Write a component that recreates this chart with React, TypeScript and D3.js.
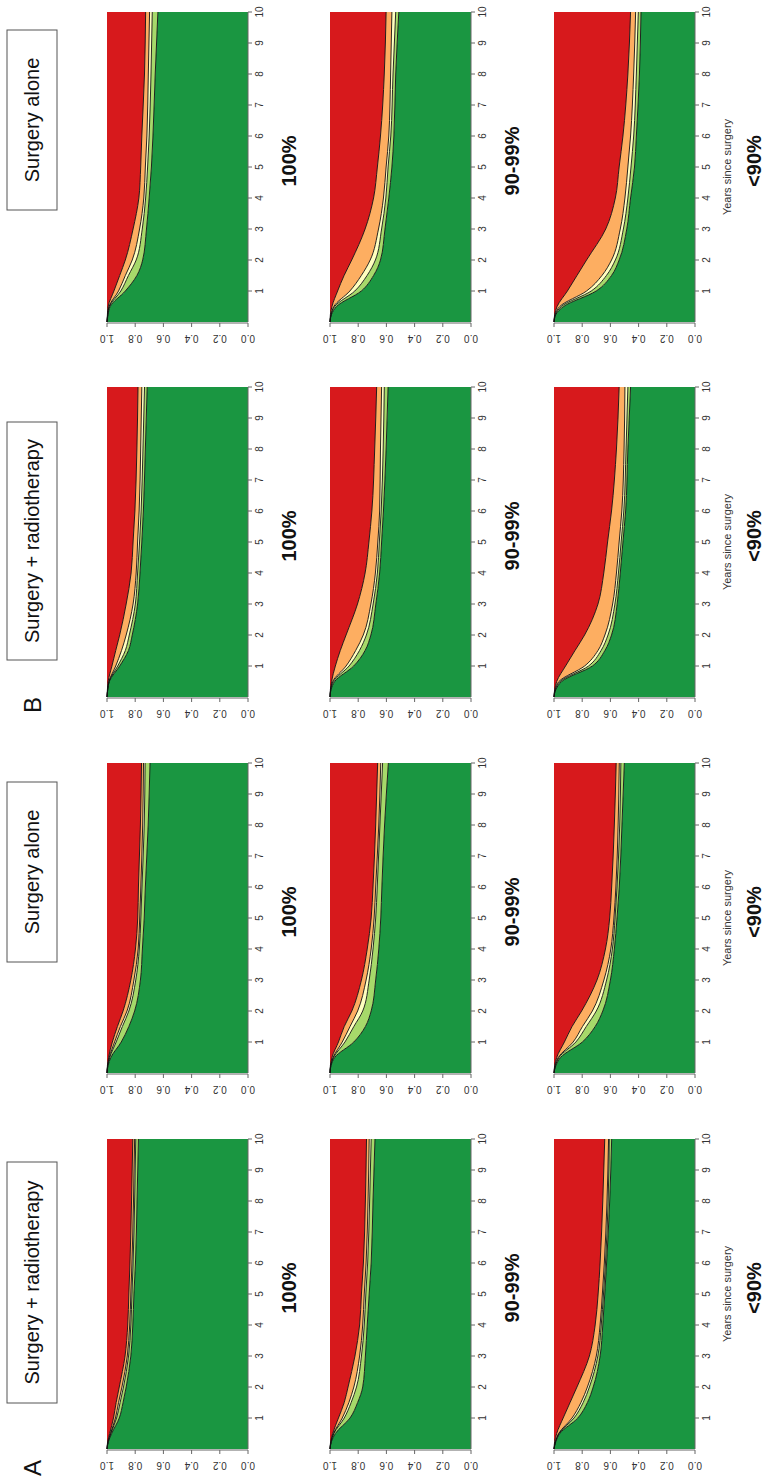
import * as d3 from "d3";

// years since surgery at which the stacked curves were read
const years = [0, 0.25, 0.5, 1, 1.5, 2, 3, 4, 5, 6, 8, 10];

// upper edge of each band: [green, light green, yellow, orange]; red fills up to 1
const A_SR_100 = [
  [1, .989, .967, .913, .886, .864, .831, .817, .809, .798, .787, .777],
  [1, .992, .973, .932, .907, .883, .847, .831, .823, .815, .804, .796],
  [1, .992, .975, .940, .918, .894, .856, .839, .831, .823, .812, .804],
  [1, .995, .981, .954, .935, .913, .872, .853, .845, .837, .826, .817],
];
const A_SR_90 = [
  [1, .989, .962, .858, .804, .768, .749, .736, .722, .708, .695, .681],
  [1, .992, .973, .899, .850, .812, .777, .757, .746, .733, .719, .708],
  [1, .992, .975, .913, .866, .831, .790, .768, .757, .744, .730, .722],
  [1, .995, .981, .940, .899, .872, .823, .790, .777, .763, .749, .741],
];
const A_SR_LT90 = [
  [1, .986, .959, .831, .763, .722, .673, .654, .640, .627, .605, .591],
  [1, .989, .965, .858, .793, .749, .689, .665, .649, .635, .616, .608],
  [1, .989, .967, .872, .809, .763, .700, .673, .657, .643, .624, .613],
  [1, .995, .981, .935, .886, .837, .749, .708, .687, .673, .654, .640],
];
const A_S_100 = [
  [1, .992, .973, .899, .845, .804, .763, .749, .736, .728, .708, .695],
  [1, .995, .981, .935, .891, .845, .796, .771, .760, .752, .736, .730],
  [1, .995, .984, .946, .905, .858, .809, .779, .768, .760, .747, .741],
  [1, .997, .989, .962, .926, .886, .831, .798, .782, .777, .763, .755],
];
const A_S_90 = [
  [1, .992, .967, .831, .749, .708, .676, .654, .640, .632, .613, .586],
  [1, .995, .975, .894, .831, .768, .722, .695, .676, .665, .646, .627],
  [1, .995, .978, .913, .858, .804, .744, .708, .687, .676, .654, .640],
  [1, .997, .986, .940, .899, .845, .777, .736, .708, .695, .676, .662],
];
const A_S_LT90 = [
  [1, .986, .954, .799, .708, .654, .600, .572, .553, .537, .518, .501],
  [1, .989, .965, .845, .771, .700, .627, .586, .567, .553, .534, .526],
  [1, .992, .970, .864, .798, .728, .646, .597, .575, .561, .545, .537],
  [1, .995, .981, .926, .872, .804, .695, .635, .605, .591, .572, .559],
];
const B_SR_100 = [
  [1, .995, .984, .910, .848, .821, .783, .766, .753, .742, .728, .715],
  [1, .995, .986, .924, .870, .842, .799, .783, .769, .758, .745, .734],
  [1, .995, .986, .938, .897, .864, .815, .793, .783, .772, .761, .753],
  [1, .997, .992, .965, .938, .910, .864, .829, .815, .802, .788, .780],
];
const B_SR_90 = [
  [1, .992, .967, .832, .751, .710, .675, .648, .634, .621, .602, .588],
  [1, .995, .976, .865, .791, .742, .694, .664, .650, .637, .623, .615],
  [1, .995, .981, .886, .818, .764, .710, .678, .661, .648, .642, .634],
  [1, .997, .989, .962, .927, .886, .805, .751, .724, .703, .683, .669],
];
const B_SR_LT90 = [
  [1, .986, .946, .728, .639, .592, .552, .530, .511, .492, .476, .457],
  [1, .989, .957, .755, .666, .617, .568, .543, .524, .505, .489, .476],
  [1, .992, .965, .783, .688, .639, .584, .557, .538, .519, .503, .497],
  [1, .995, .981, .918, .851, .783, .688, .647, .620, .592, .557, .538],
];
const B_S_100 = [
  [1, .992, .978, .870, .788, .747, .720, .701, .685, .674, .658, .639],
  [1, .995, .984, .902, .848, .793, .750, .726, .712, .701, .688, .679],
  [1, .995, .986, .918, .870, .821, .769, .739, .728, .717, .707, .698],
  [1, .997, .992, .951, .910, .870, .815, .774, .761, .753, .734, .726],
];
const B_S_90 = [
  [1, .989, .954, .778, .691, .642, .610, .583, .561, .547, .534, .512],
  [1, .992, .967, .824, .737, .678, .634, .604, .588, .569, .553, .534],
  [1, .992, .973, .859, .778, .715, .656, .621, .602, .583, .570, .561],
  [1, .997, .986, .946, .900, .846, .751, .691, .664, .642, .615, .602],
];
const B_S_LT90 = [
  [1, .986, .932, .701, .592, .538, .484, .457, .429, .416, .394, .383],
  [1, .989, .948, .736, .628, .565, .508, .476, .454, .435, .416, .402],
  [1, .992, .959, .769, .660, .592, .530, .497, .476, .457, .435, .421],
  [1, .995, .978, .905, .837, .769, .633, .565, .538, .511, .476, .457],
];

const groups = [
  [A_SR_100, A_SR_90, A_SR_LT90],
  [A_S_100, A_S_90, A_S_LT90],
  [B_SR_100, B_SR_90, B_SR_LT90],
  [B_S_100, B_S_90, B_S_LT90],
];
const groupTitles = ["Surgery + radiotherapy", "Surgery alone", "Surgery + radiotherapy", "Surgery alone"];
const rowLabels = ["100%", "90-99%", "<90%"];
const yearTicks = [1, 2, 3, 4, 5, 6, 7, 8, 9, 10];
const valueTicks = [0, 0.2, 0.4, 0.6, 0.8, 1.0];
const bandColors = ["#1a9641", "#a6d96a", "#ffffbf", "#fdae61", "#d7191c"];

// layout in the unrotated figure (1484 wide, 768 tall)
const W = 1484;
const groupX = [35, 411, 787, 1162];
const rowY = [107, 330, 554];
const PW = 310;
const PH = 141;
const boxes = [
  { x: 81, w: 241 },
  { x: 522, w: 180 },
  { x: 824, w: 238 },
  { x: 1274, w: 180 },
];
const font = "'Liberation Sans', Arial, Helvetica, sans-serif";

function Panel({ x0, y0, edges, label, showXTitle }: any) {
  const x = d3.scaleLinear([0, 10], [x0, x0 + PW]);
  const y = d3.scaleLinear([0, 1], [y0 + PH, y0]);
  const lower = [years.map(() => 0), ...edges];
  const upper = [...edges, years.map(() => 1)];
  const area = d3
    .area<number>()
    .x((_, i) => x(years[i]))
    .curve(d3.curveMonotoneX);
  const line = d3
    .line<number>()
    .x((_, i) => x(years[i]))
    .y((d) => y(d))
    .curve(d3.curveMonotoneX);

  return (
    <g>
      {bandColors.map((c, k) => {
        const a = area.y0((_, i) => y(lower[k][i])).y1((_, i) => y(upper[k][i]));
        return <path key={c} d={a(years) || ""} fill={c} />;
      })}
      {edges.map((e: number[], k: number) => (
        <path key={k} d={line(e) || ""} fill="none" stroke="#111" strokeWidth={0.9} />
      ))}
      {/* years axis */}
      <line x1={x(0)} x2={x(10)} y1={y0 + PH} y2={y0 + PH} stroke="#666" strokeWidth={1} />
      {yearTicks.map((t) => (
        <g key={t}>
          <line x1={x(t)} x2={x(t)} y1={y0 + PH} y2={y0 + PH + 4} stroke="#666" />
          <text x={x(t)} y={y0 + PH + 15} fontSize={10} textAnchor="middle" fill="#333" fontFamily={font}>
            {t}
          </text>
        </g>
      ))}
      {/* value axis */}
      <line x1={x0 - 1} x2={x0 - 1} y1={y(0)} y2={y(1)} stroke="#666" strokeWidth={1} />
      {valueTicks.map((v) => (
        <g key={v}>
          <line x1={x0 - 1} x2={x0 - 5} y1={y(v)} y2={y(v)} stroke="#666" />
          <text
            transform={`translate(${x0 - 13},${y(v)}) rotate(-90)`}
            fontSize={10}
            textAnchor="middle"
            fill="#333"
            fontFamily={font}
          >
            {v.toFixed(1)}
          </text>
        </g>
      ))}
      {showXTitle && (
        <text x={x0 + PW / 2} y={y0 + PH + 36} fontSize={11} textAnchor="middle" fill="#333" fontFamily={font}>
          Years since surgery
        </text>
      )}
      <text
        x={x0 + PW / 2 + 6}
        y={showXTitle ? y0 + PH + 66 : y0 + PH + 48}
        fontSize={20}
        fontWeight="bold"
        textAnchor="middle"
        fill="#111"
        fontFamily={font}
      >
        {label}
      </text>
    </g>
  );
}

export default function App() {
  return (
    <svg
      width={768}
      height={1484}
      style={{ position: "absolute", left: 0, top: 0, background: "#fff" }}
    >
      <rect width={768} height={1484} fill="#fff" />
      <g transform={`translate(0,${W}) rotate(-90)`}>
        <text x={8} y={41} fontSize={24} fill="#111" fontFamily={font}>A</text>
        <text x={771} y={41} fontSize={24} fill="#111" fontFamily={font}>B</text>
        {boxes.map((b, g) => (
          <g key={g}>
            <rect x={b.x} y={7} width={b.w} height={50} fill="#fff" stroke="#555" strokeWidth={1} />
            <text x={b.x + b.w / 2} y={39} fontSize={20} textAnchor="middle" fill="#111" fontFamily={font}>
              {groupTitles[g]}
            </text>
          </g>
        ))}
        {groups.map((rows, g) =>
          rows.map((edges, r) => (
            <Panel
              key={`${g}-${r}`}
              x0={groupX[g]}
              y0={rowY[r]}
              edges={edges}
              label={rowLabels[r]}
              showXTitle={r === 2}
            />
          ))
        )}
      </g>
    </svg>
  );
}
